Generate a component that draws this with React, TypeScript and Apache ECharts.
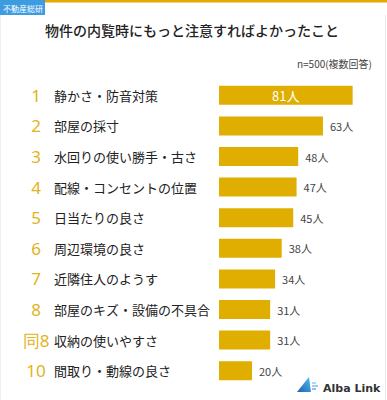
import React, { useEffect, useRef } from "react";
import * as echarts from "echarts";

const ranks = ["1", "2", "3", "4", "5", "6", "7", "8", "同8", "10"];
const categories = [
  "静かさ・防音対策",
  "部屋の採寸",
  "水回りの使い勝手・古さ",
  "配線・コンセントの位置",
  "日当たりの良さ",
  "周辺環境の良さ",
  "近隣住人のようす",
  "部屋のキズ・設備の不具合",
  "収納の使いやすさ",
  "間取り・動線の良さ",
];
const values = [81, 63, 48, 47, 45, 38, 34, 31, 31, 20];
const unit = "人";

const title = "物件の内覧時にもっと注意すればよかったこと";
const note = "n=500(複数回答)";
const tag = "不動産総研";
const brand = "Alba Link";

const GOLD = "#DFAE00";
const FONT = "'Noto Sans CJK JP', 'Noto Sans', sans-serif";

export default function App() {
  const ref = useRef<HTMLDivElement>(null);
  useEffect(() => {
    document.body.style.margin = "0";
    const chart = echarts.init(ref.current!, null, { renderer: "svg" });
    chart.setOption({
      animation: false,
      backgroundColor: "#ffffff",
      textStyle: { fontFamily: FONT },
      grid: { left: 219, width: 165, top: 80, bottom: 14, containLabel: false },
      xAxis: {
        type: "value",
        min: 0,
        max: 100,
        show: false,
      },
      yAxis: {
        type: "category",
        inverse: true,
        data: categories.map((c, i) => ({ value: c, rank: ranks[i] })),
        axisLine: { show: false },
        axisTick: { show: false },
        axisLabel: {
          align: "left",
          margin: 197,
          formatter: (v: string, i: number) => `{r|${ranks[i]}}{t|${v}}`,
          rich: {
            r: {
              width: 28,
              align: "center",
              fontSize: 17,
              color: "#E2B31C",
              fontFamily: "'Noto Sans', sans-serif",
            },
            t: {
              fontSize: 13,
              color: "#222222",
              padding: [0, 0, 0, 4],
              fontFamily: FONT,
            },
          },
        },
      },
      series: [
        {
          type: "bar",
          data: values.map((v, i) =>
            i === 0
              ? {
                  value: v,
                  label: {
                    position: "inside",
                    color: "#ffffff",
                    fontSize: 13,
                  },
                }
              : v
          ),
          barWidth: 19,
          itemStyle: { color: GOLD },
          label: {
            show: true,
            position: "right",
            distance: 7,
            fontSize: 11,
            color: "#444444",
            fontFamily: FONT,
            formatter: (p: any) => `${p.value}${unit}`,
          },
        },
      ],
      graphic: [
        { type: "rect", shape: { x: 45, y: 0, width: 342, height: 2.5 }, style: { fill: "#E5A800" } },
        { type: "rect", shape: { x: 0, y: 0, width: 45, height: 15 }, style: { fill: "#3D9BE0" } },
        {
          type: "text",
          x: 3,
          y: 8,
          style: { text: tag, fill: "#ffffff", fontSize: 8, fontFamily: FONT, textVerticalAlign: "middle" },
        },
        { type: "line", shape: { x1: 385.5, y1: 15, x2: 385.5, y2: 400 }, style: { stroke: "#E8E8E8", lineWidth: 1 } },
        { type: "line", shape: { x1: 0.5, y1: 15, x2: 0.5, y2: 400 }, style: { stroke: "#F0F0F0", lineWidth: 1 } },
        {
          type: "text",
          x: 192,
          y: 30,
          style: {
            text: title,
            fill: "#222222",
            fontSize: 14,
            fontWeight: 500,
            fontFamily: FONT,
            textAlign: "center",
            textVerticalAlign: "middle",
          },
        },
        {
          type: "text",
          x: 372,
          y: 63,
          style: {
            text: note,
            fill: "#444444",
            fontSize: 10,
            fontFamily: FONT,
            textAlign: "right",
            textVerticalAlign: "middle",
          },
        },
        {
          type: "polygon",
          shape: { points: [[297, 392], [309, 377], [311, 392]] },
          style: {
            fill: new echarts.graphic.LinearGradient(0, 1, 1, 0, [
              { offset: 0, color: "#1E5FB8" },
              { offset: 1, color: "#4FC0F0" },
            ]),
          },
        },
        { type: "line", shape: { x1: 312, y1: 383, x2: 316, y2: 383 }, style: { stroke: "#4FB6EC", lineWidth: 1 } },
        { type: "line", shape: { x1: 312, y1: 386, x2: 318, y2: 386 }, style: { stroke: "#3D9BE0", lineWidth: 1 } },
        { type: "line", shape: { x1: 312, y1: 389, x2: 316, y2: 389 }, style: { stroke: "#2F7FCC", lineWidth: 1 } },
        {
          type: "text",
          x: 323,
          y: 388,
          style: {
            text: brand,
            fill: "#333333",
            fontSize: 11,
            fontWeight: "bold",
            fontFamily: "'DejaVu Sans', sans-serif",
            textVerticalAlign: "middle",
          },
        },
      ],
    });
    return () => chart.dispose();
  }, []);
  return (
    <div
      ref={ref}
      style={{ position: "fixed", left: 0, top: 0, width: 387, height: 400 }}
    />
  );
}
